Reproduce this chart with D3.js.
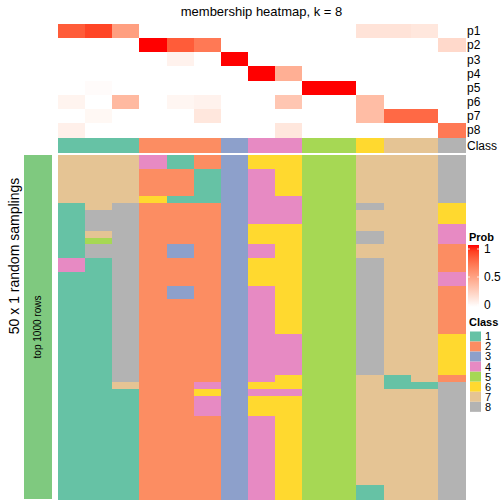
<!DOCTYPE html>
<html><head><meta charset="utf-8">
<script src="https://cdn.jsdelivr.net/npm/d3@7"></script>
<style>body{margin:0;background:#fff}svg{display:block}text{font-family:"Liberation Sans",Arial,Helvetica,sans-serif}</style>
</head><body><svg id="c" width="504" height="504"></svg>
<script>
const colorsClass = ["#66C2A5","#FC8D62","#8DA0CB","#E78AC3","#A6D854","#FFD92F","#E5C494","#B3B3B3"];
const classLabels = ["1","2","3","4","5","6","7","8"];
const probNames = ["p1","p2","p3","p4","p5","p6","p7","p8"];
const columnClass = [1,1,1,2,2,2,3,4,4,5,5,6,7,7,8];
const p1 = [0.8,0.88,0.5,0,0,0,0,0,0,0,0,0.15,0.15,0.13,0];
const p2 = [0,0,0,1,0.8,0.68,0,0,0,0,0,0,0,0,0.2];
const p3 = [0,0,0,0,0.07,0,1,0,0,0,0,0,0,0,0];
const p4 = [0,0,0,0,0,0,0,1,0.42,0,0,0,0,0,0];
const p5 = [0,0.02,0,0,0,0,0,0,0,1,1,0,0,0,0];
const p6 = [0.06,0,0.37,0,0.05,0.07,0,0,0.3,0,0,0.35,0,0,0];
const p7 = [0,0.04,0,0,0,0.13,0,0,0,0,0,0.35,0.75,0.75,0];
const p8 = [0.08,0,0,0,0,0,0,0,0.13,0,0,0,0,0,0.68];
const samplings = [
"777412366557778","777412366557778",
"777221346557778","777221346557778","777221346557778","777221346557778",
"777611344557778","178222344558776",
"188222344557776","188222344557776",
"188222366557774","178222366558774","158222366558774",
"188232346557772","188232346557772",
"418222366558772","418222366558772",
"118222366558774","118222366558774",
"118232346558772","118232346558772",
"118222346558772","118222346558772","118222346558772","118222346558772","118222346558772",
"118222344558776","118222344558776","118222344558776","118222344558776","118222344558776","118222344558776",
"118222346557172","117224366557118","111226344557778",
"111224366557778","111224366557778","111224366557778",
"111222346557778","111222346557778","111222346557778","111222346557778","111222346557778",
"111222346557778","111222346557778","111222346557778","111222346557778","111222346557778",
"111222346551778","111222346551778"
];
const probTicks = [0, 0.5, 1];

const probs = [p1,p2,p3,p4,p5,p6,p7,p8];
const nCol = columnClass.length;
const svg = d3.select("#c");
const cls = d3.scaleOrdinal().domain([1,2,3,4,5,6,7,8]).range(colorsClass);
const probColor = d3.scaleLinear().domain([0,1]).range(["#FFFFFF","#FF0000"]).interpolate(d3.interpolateLab);

const x = d3.scaleBand().domain(d3.range(nCol)).range([58,465]).paddingInner(0);
const yP = d3.scaleBand().domain(d3.range(8)).range([24,137]);
const yM = d3.scaleBand().domain(d3.range(samplings.length)).range([155,499]);

svg.append("text").attr("x",261.5).attr("y",16).attr("text-anchor","middle")
  .attr("font-size",13).text("membership heatmap, k = 8");

const cells = svg.append("g").attr("shape-rendering","crispEdges");
probs.forEach((row,i)=>{
  cells.append("g").selectAll("rect").data(row).join("rect")
    .attr("x",(d,j)=>x(j)).attr("y",yP(i)).attr("width",x.bandwidth()+0.5).attr("height",yP.bandwidth()+0.5)
    .attr("fill",d=>probColor(d));
  svg.append("text").attr("x",467).attr("y",yP(i)+yP.bandwidth()/2).attr("dy","0.35em")
    .attr("font-size",12).text(probNames[i]);
});
cells.append("g").selectAll("rect").data(columnClass).join("rect")
  .attr("x",(d,j)=>x(j)).attr("y",138).attr("width",x.bandwidth()+0.5).attr("height",14.5)
  .attr("fill",d=>cls(d));
svg.append("text").attr("x",467).attr("y",145.5).attr("dy","0.35em").attr("font-size",12).text("Class");

samplings.forEach((s,i)=>{
  const vals = s.split("").map(Number);
  cells.append("g").selectAll("rect").data(vals).join("rect")
    .attr("x",(d,j)=>x(j)).attr("y",yM(i)).attr("width",x.bandwidth()+0.5).attr("height",yM.bandwidth()+0.5)
    .attr("fill",d=>cls(d));
});

svg.append("rect").attr("x",24).attr("y",155).attr("width",28).attr("height",344).attr("fill","#7FC97F");
svg.append("text").attr("transform","translate(41,327) rotate(-90)").attr("text-anchor","middle")
  .attr("font-size",10).text("top 1000 rows");
svg.append("text").attr("transform","translate(14,256) rotate(-90)").attr("text-anchor","middle")
  .attr("dy","0.35em").attr("font-size",14).text("50 x 1 random samplings");

svg.append("text").attr("x",469).attr("y",241).attr("font-size",11).attr("font-weight","bold").text("Prob");
const defs = svg.append("defs");
const lg = defs.append("linearGradient").attr("id","pg").attr("x1",0).attr("x2",0).attr("y1",1).attr("y2",0);
d3.range(0,1.0001,0.1).forEach(t=>lg.append("stop").attr("offset",t).attr("stop-color",probColor(t)));
const yL = d3.scaleLinear().domain([0,1]).range([305,249]);
svg.append("rect").attr("x",468).attr("y",245).attr("width",11).attr("height",62).attr("fill","url(#pg)");
probTicks.forEach(t=>{
  svg.append("line").attr("x1",468).attr("x2",470).attr("y1",yL(t)).attr("y2",yL(t)).attr("stroke","#fff").attr("stroke-width",0.8);
  svg.append("line").attr("x1",477).attr("x2",479).attr("y1",yL(t)).attr("y2",yL(t)).attr("stroke","#fff").attr("stroke-width",0.8);
  svg.append("text").attr("x",484).attr("y",yL(t)).attr("dy","0.35em").attr("font-size",12).text(String(t));
});

svg.append("text").attr("x",469).attr("y",326).attr("font-size",11).attr("font-weight","bold").text("Class");
classLabels.forEach((l,i)=>{
  svg.append("rect").attr("x",470).attr("y",331.5+i*10.05).attr("width",11).attr("height",10).attr("fill",colorsClass[i]);
  svg.append("text").attr("x",485).attr("y",336.5+i*10.05).attr("dy","0.35em").attr("font-size",11).text(l);
});
</script></body></html>
